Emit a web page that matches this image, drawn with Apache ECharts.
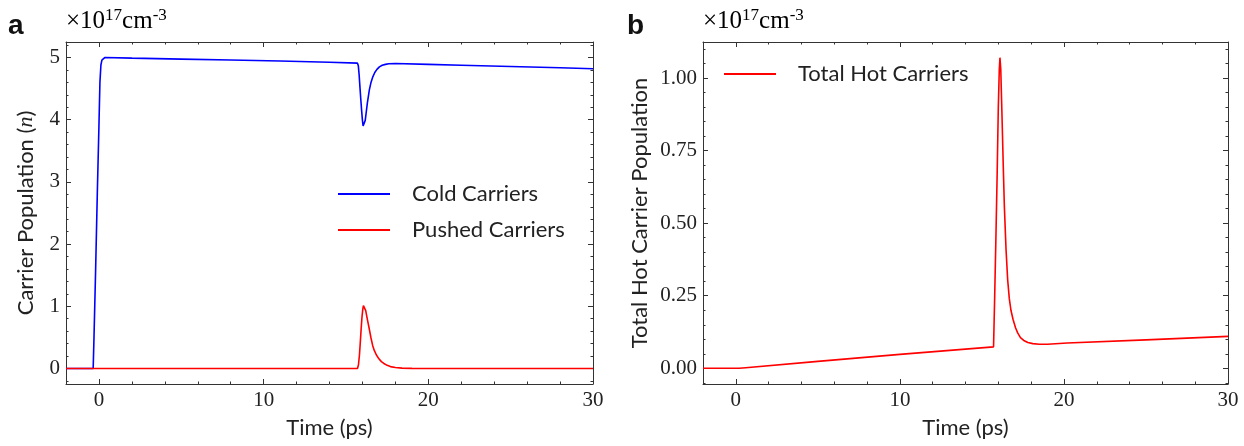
<!DOCTYPE html>
<html>
<head>
<meta charset="utf-8">
<script src="https://cdn.jsdelivr.net/npm/echarts@6/dist/echarts.min.js"></script>
<style>
  html, body { margin: 0; padding: 0; background: #fff; }
  #chart { width: 1244px; height: 446px; }
</style>
</head>
<body>
<div id="chart"></div>
<script>
// panel a: cold carriers
const coldTime = [-2, -0.35, -0.3, -0.2, -0.1, 0.0, 0.06, 0.12, 0.18, 0.25, 0.35, 2, 5, 8, 11, 14, 15.7, 15.75, 15.8, 15.85, 15.9, 15.95, 16.0, 16.04, 16.08, 16.12, 16.17, 16.23, 16.3, 16.42, 16.52, 16.63, 16.75, 16.88, 17.03, 17.2, 17.4, 17.6, 18, 20, 22, 25, 28, 30];
const coldPop = [0, 0, 0.5, 1.6, 2.8, 3.9, 4.6, 4.88, 4.96, 4.99, 5.0, 4.99, 4.975, 4.96, 4.945, 4.925, 4.91, 4.87, 4.72, 4.52, 4.33, 4.15, 3.99, 3.9, 3.87, 3.9, 3.99, 4.12, 4.27, 4.48, 4.6, 4.69, 4.76, 4.81, 4.85, 4.875, 4.89, 4.9, 4.905, 4.89, 4.875, 4.855, 4.835, 4.82];
// panel a: pushed carriers
const pushedTime = [-2, 15.7, 15.76, 15.82, 15.87, 15.92, 15.97, 16.02, 16.06, 16.1, 16.15, 16.2, 16.27, 16.35, 16.42, 16.52, 16.62, 16.72, 16.84, 17.0, 17.15, 17.3, 17.5, 17.7, 18.0, 18.4, 19, 30];
const pushedPop = [0, 0, 0.06, 0.22, 0.42, 0.63, 0.82, 0.95, 1.01, 1.02, 0.99, 0.93, 0.83, 0.72, 0.63, 0.49, 0.37, 0.29, 0.22, 0.155, 0.11, 0.08, 0.05, 0.03, 0.015, 0.006, 0.002, 0];
// panel b: total hot carriers
const hotTime = [-2, 0.2, 0.6, 5, 10, 15.71, 15.78, 15.85, 15.93, 16.0, 16.06, 16.1, 16.15, 16.22, 16.3, 16.37, 16.47, 16.57, 16.67, 16.77, 16.9, 17.05, 17.18, 17.35, 17.55, 17.8, 18.1, 18.5, 19, 20.2, 25, 30];
const hotPop = [0, 0, 0.002, 0.024, 0.048, 0.074, 0.25, 0.44, 0.67, 0.9, 1.03, 1.07, 1.03, 0.88, 0.7, 0.556, 0.41, 0.305, 0.24, 0.2, 0.168, 0.14, 0.122, 0.106, 0.096, 0.089, 0.085, 0.083, 0.083, 0.087, 0.098, 0.11];

// ticks
const timeMajor = [0, 10, 20, 30];
const timeMinor = [2, 4, 6, 8, 12, 14, 16, 18, 22, 24, 26, 28];
const popMajor = [0, 1, 2, 3, 4, 5];
const hotMajor = [0, 0.25, 0.5, 0.75, 1.0];

function steps(from, to, step) {
  const out = [];
  for (let v = from; v <= to + 1e-9; v += step) out.push(+v.toFixed(4));
  return out;
}
const popMinor = steps(-0.2, 5.2, 0.2);
const hotMinor = steps(-0.05, 1.1, 0.05);

const serif = "Liberation Serif";
const sans = "Lato";
const axisColor = "#333";

function zip(xs, ys) {
  return xs.map((x, i) => [x, ys[i]]);
}

// one side of a box: a major axis and a minor one on top of each other
function sideAxes(gridIndex, position, min, max, majors, minors, extra) {
  const base = {
    type: "value",
    gridIndex: gridIndex,
    position: position,
    min: min,
    max: max,
    splitLine: { show: false },
    axisLine: { show: true, onZero: false, lineStyle: { color: axisColor, width: 1 } },
  };
  const major = Object.assign({}, base, {
    axisTick: { show: true, inside: true, length: 5, customValues: majors, lineStyle: { color: axisColor } },
    axisLabel: { show: false },
  }, extra || {});
  const minor = Object.assign({}, base, {
    axisLine: { show: false, onZero: false },
    axisTick: { show: true, inside: true, length: 2.5, customValues: minors, lineStyle: { color: axisColor } },
    axisLabel: { show: false },
  });
  return [major, minor];
}

function labelOpts(values, formatter) {
  return {
    show: true,
    customValues: values,
    margin: 6,
    fontFamily: serif,
    fontSize: 21,
    color: "#222",
    formatter: formatter,
  };
}

const nameStyle = { fontFamily: sans, fontSize: 22, color: "#222" };

const xAxes = [];
const yAxes = [];
[0, 1].forEach((g) => {
  xAxes.push(...sideAxes(g, "bottom", -2, 30, timeMajor, timeMinor, {
    axisLabel: labelOpts(timeMajor, (v) => String(v)),
    name: "Time (ps)",
    nameLocation: "middle",
    nameGap: 33,
    nameTextStyle: nameStyle,
  }));
  xAxes.push(...sideAxes(g, "top", -2, 30, timeMajor, timeMinor));
});
yAxes.push(...sideAxes(0, "left", -0.25, 5.25, popMajor, popMinor, {
  axisLabel: labelOpts(popMajor, (v) => String(v)),
  name: "Carrier Population ({i|n})",
  nameLocation: "middle",
  nameGap: 29,
  nameTextStyle: Object.assign({}, nameStyle, {
    rich: { i: { fontFamily: serif, fontStyle: "italic", fontSize: 22, color: "#222" } },
  }),
}));
yAxes.push(...sideAxes(0, "right", -0.25, 5.25, popMajor, popMinor));
yAxes.push(...sideAxes(1, "left", -0.054, 1.124, hotMajor, hotMinor, {
  axisLabel: labelOpts(hotMajor, (v) => v.toFixed(2)),
  name: "Total Hot Carrier Population",
  nameLocation: "middle",
  nameGap: 52,
  nameTextStyle: nameStyle,
}));
yAxes.push(...sideAxes(1, "right", -0.054, 1.124, hotMajor, hotMinor));

const lineBase = {
  type: "line",
  showSymbol: false,
  symbol: "none",
  smooth: false,
  animation: false,
};

const unitRich = {
  b: { fontFamily: serif, fontSize: 25, color: "#222" },
  s: { fontFamily: serif, fontSize: 17, color: "#222", verticalAlign: "top", padding: [0, 0, 12, 0] },
};

const legendText = { fontFamily: sans, fontSize: 22, color: "#222", padding: [0, 0, 0, 17] };

const chart = echarts.init(document.getElementById("chart"));
chart.setOption({
  backgroundColor: "#fff",
  animation: false,
  grid: [
    { left: 66, top: 42, width: 527, height: 342 },
    { left: 703, top: 42, width: 525, height: 342 },
  ],
  xAxis: xAxes,
  yAxis: yAxes,
  legend: [
    {
      data: ["Cold Carriers", "Pushed Carriers"],
      orient: "vertical",
      left: 333,
      top: 178,
      icon: "rect",
      itemWidth: 52,
      itemHeight: 2,
      itemGap: 14,
      textStyle: legendText,
    },
    {
      data: ["Total Hot Carriers"],
      orient: "vertical",
      left: 719,
      top: 58,
      icon: "rect",
      itemWidth: 52,
      itemHeight: 2,
      textStyle: legendText,
    },
  ],
  graphic: [
    { type: "text", left: 8, top: 12, style: { text: "a", font: "bold 28px 'Liberation Sans'", fill: "#111" } },
    { type: "text", left: 627, top: 12, style: { text: "b", font: "bold 28px 'Liberation Sans'", fill: "#111" } },
    { type: "text", left: 66, top: 7, style: { text: "{b|×10}{s|17}{b|cm}{s|-3}", rich: unitRich } },
    { type: "text", left: 703, top: 7, style: { text: "{b|×10}{s|17}{b|cm}{s|-3}", rich: unitRich } },
  ],
  series: [
    Object.assign({}, lineBase, {
      name: "Cold Carriers",
      xAxisIndex: 0,
      yAxisIndex: 0,
      data: zip(coldTime, coldPop),
      lineStyle: { color: "#0000ff", width: 1.6 },
      itemStyle: { color: "#0000ff" },
    }),
    Object.assign({}, lineBase, {
      name: "Pushed Carriers",
      xAxisIndex: 0,
      yAxisIndex: 0,
      data: zip(pushedTime, pushedPop),
      lineStyle: { color: "#ff0000", width: 1.6 },
      itemStyle: { color: "#ff0000" },
    }),
    Object.assign({}, lineBase, {
      name: "Total Hot Carriers",
      xAxisIndex: 4,
      yAxisIndex: 4,
      data: zip(hotTime, hotPop),
      lineStyle: { color: "#ff0000", width: 1.6 },
      itemStyle: { color: "#ff0000" },
    }),
  ],
});
</script>
</body>
</html>
